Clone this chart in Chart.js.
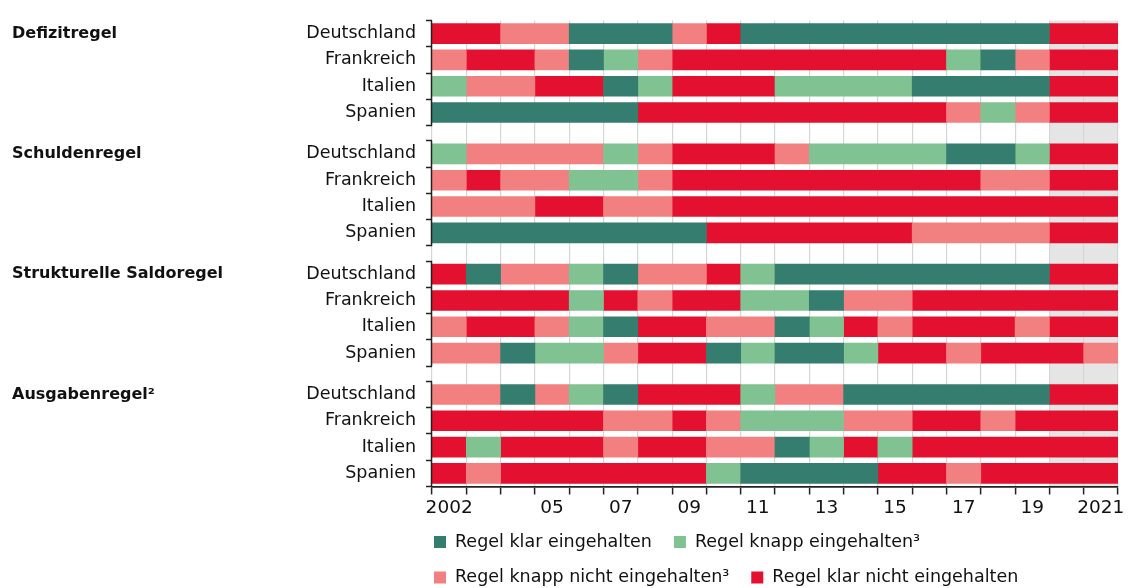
<!DOCTYPE html>
<html>
<head>
<meta charset="utf-8">
<script src="https://cdn.jsdelivr.net/npm/chart.js@4.4.1/dist/chart.umd.min.js"></script>
<style>
  html, body { margin: 0; padding: 0; background: #ffffff; }
  #wrap { width: 1129px; height: 588px; position: relative; }
</style>
</head>
<body>
<div id="wrap"><canvas id="c" width="1129" height="588"></canvas></div>
<script>
// ---------- data ----------
const years = [2002, 2003, 2004, 2005, 2006, 2007, 2008, 2009, 2010, 2011,
               2012, 2013, 2014, 2015, 2016, 2017, 2018, 2019, 2020, 2021];
const tickYears  = [2002, 2005, 2007, 2009, 2011, 2013, 2015, 2017, 2019, 2021];
const tickLabels = ['2002', '05', '07', '09', '11', '13', '15', '17', '19', '2021'];
const projectionYears = [2020, 2021];

const countries = ['Deutschland', 'Frankreich', 'Italien', 'Spanien'];
const rules = ['Defizitregel', 'Schuldenregel', 'Strukturelle Saldoregel', 'Ausgabenregel²'];

const categories = ['Regel klar eingehalten', 'Regel knapp eingehalten³',
                    'Regel knapp nicht eingehalten³', 'Regel klar nicht eingehalten'];
const categoryCodes = ['D', 'L', 'P', 'R'];
const categoryColors = ['#347d6f', '#80c291', '#f28080', '#e31030'];

// one letter per year 2002..2021 (D = klar eingehalten, L = knapp eingehalten,
// P = knapp nicht eingehalten, R = klar nicht eingehalten); order = countries
const defizitregel = [
  'RRPPDDDPRDDDDDDDDDRR',
  'PRRPDLPRRRRRRRRLDPRR',
  'LPPRRDLRRRLLLLDDDDRR',
  'DDDDDDRRRRRRRRRPLPRR'
];
const schuldenregel = [
  'LPPPPLPRRRPLLLLDDLRR',
  'PRPPLLPRRRRRRRRRPPRR',
  'PPPRRPPRRRRRRRRRRRRR',
  'DDDDDDDDRRRRRRPPPPRR'
];
const saldoregel = [
  'RDPPLDPPRLDDDDDDDDRR',
  'RRRRLRPRRLLDPPRRRRRR',
  'PRRPLDRRPPDLRPRRRPRR',
  'PPDLLPRRDLDDLRRPRRRP'
];
const ausgabenregel = [
  'PPDPLDRRRLPPDDDDDDRR',
  'RRRRRPPRPLLLPPRRPRRR',
  'RLRRRPRRPPDLRLRRRRRR',
  'RPRRRRRRLDDDDRRPRRRR'
];
const ruleData = [defizitregel, schuldenregel, saldoregel, ausgabenregel];

// ---------- layout helpers ----------
const GROUP_STEP = 4.575;           // row units from one rule group to the next
const Y_MIN = -0.5;
const Y_MAX = 3 * GROUP_STEP + 3.5;
const rowPos = (g, r) => g * GROUP_STEP + r;

// build floating bars from runs of equal status
const datasets = categoryCodes.map((code, ci) => ({
  label: categories[ci],
  data: [],
  backgroundColor: categoryColors[ci],
  borderWidth: 0,
  barThickness: 20,
  grouped: false
}));
ruleData.forEach((rows, g) => {
  rows.forEach((s, r) => {
    let start = 0;
    for (let i = 1; i <= s.length; i++) {
      if (i === s.length || s[i] !== s[start]) {
        const ci = categoryCodes.indexOf(s[start]);
        datasets[ci].data.push({ x: [years[start] - 0.5, years[i - 1] + 0.5], y: rowPos(g, r) });
        start = i;
      }
    }
  });
});

// x ticks: boundaries (tick marks / grid) and centres (labels)
const xTicks = [];
for (let v = years[0] - 0.5; v <= years[years.length - 1] + 0.5 + 1e-9; v += 0.5) xTicks.push(v);
const isBoundary = v => Math.abs(v - Math.round(v)) > 0.25;

// y ticks: boundaries (tick marks) and centres (country labels)
const yTicks = [];
rules.forEach((name, g) => {
  for (let k = 0; k <= 4; k++) {
    yTicks.push({ value: g * GROUP_STEP - 0.5 + k, label: '', b: true });
    if (k < 4) yTicks.push({ value: rowPos(g, k), label: countries[k], b: false });
  }
});
yTicks.sort((a, b) => a.value - b.value);

const FONT = '"DejaVu Sans", sans-serif';
const TEXT = '#111111';

const decor = {
  id: 'decor',
  beforeDraw(chart) {
    const { ctx, chartArea: a, scales: { x } } = chart;
    const x0 = x.getPixelForValue(projectionYears[0] - 0.5);
    const x1 = x.getPixelForValue(projectionYears[projectionYears.length - 1] + 0.5);
    ctx.save();
    ctx.fillStyle = '#e5e5e5';
    ctx.fillRect(x0, a.top, x1 - x0, a.bottom - a.top);
    ctx.restore();
  },
  afterDraw(chart) {
    const { ctx, chartArea: a, scales: { y } } = chart;
    ctx.save();
    // group spines
    ctx.strokeStyle = '#222222';
    ctx.lineWidth = 1.5;
    rules.forEach((name, g) => {
      const t = y.getPixelForValue(g * GROUP_STEP - 0.5);
      const b = y.getPixelForValue(g * GROUP_STEP + 3.5);
      ctx.beginPath();
      ctx.moveTo(a.left - 0.5, t);
      ctx.lineTo(a.left - 0.5, b);
      ctx.stroke();
    });
    // group titles
    ctx.font = 'bold 16px ' + FONT;
    ctx.fillStyle = TEXT;
    ctx.textAlign = 'left';
    ctx.textBaseline = 'middle';
    rules.forEach((name, g) => {
      ctx.fillText(name, 12, y.getPixelForValue(rowPos(g, 0)));
    });
    // legend
    ctx.font = '17.5px ' + FONT;
    const legendRows = [[0, 1], [2, 3]];
    const rowY = [542, 577.5];
    legendRows.forEach((row, ri) => {
      let xx = 434;
      const yy = rowY[ri];
      row.forEach(ci => {
        ctx.fillStyle = categoryColors[ci];
        ctx.fillRect(xx, yy - 6, 12, 12);
        ctx.fillStyle = TEXT;
        ctx.fillText(categories[ci], xx + 21, yy);
        xx += 21 + ctx.measureText(categories[ci]).width + 22;
      });
    });
    ctx.restore();
  }
};

new Chart(document.getElementById('c'), {
  type: 'bar',
  data: { datasets },
  options: {
    responsive: false,
    animation: false,
    devicePixelRatio: 1,
    events: [],
    indexAxis: 'y',
    layout: { padding: { top: 13.6, right: 11, bottom: 0, left: 0 } },
    plugins: { legend: { display: false }, tooltip: { enabled: false } },
    scales: {
      x: {
        type: 'linear',
        position: 'bottom',
        min: years[0] - 0.5,
        max: years[years.length - 1] + 0.5,
        offset: false,
        afterBuildTicks: s => { s.ticks = xTicks.map(v => ({ value: v })); },
        afterFit: s => { s.height = 101.5; },
        grid: {
          offset: false,
          color: c => (c.tick && isBoundary(c.tick.value)) ? '#d6d6d6' : 'rgba(0,0,0,0)',
          lineWidth: 1.2,
          tickColor: c => (c.tick && isBoundary(c.tick.value)) ? '#222222' : 'rgba(0,0,0,0)',
          tickLength: 8,
          tickWidth: 1.5
        },
        border: { display: true, color: '#222222', width: 1.8 },
        ticks: {
          autoSkip: false,
          maxRotation: 0,
          padding: 3,
          color: TEXT,
          font: { family: FONT, size: 18.5 },
          callback: v => {
            const i = tickYears.indexOf(Math.round(v));
            return (!isBoundary(v) && i >= 0) ? tickLabels[i] : '';
          }
        }
      },
      y: {
        type: 'linear',
        reverse: true,
        min: Y_MIN,
        max: Y_MAX,
        offset: false,
        afterBuildTicks: s => { s.ticks = yTicks.map(t => ({ value: t.value })); },
        afterFit: s => { s.width = 432; },
        grid: {
          offset: false,
          drawOnChartArea: false,
          tickLength: 6,
          tickWidth: 1.5,
          tickColor: c => (c.index !== undefined && yTicks[c.index] && yTicks[c.index].b) ? '#222222' : 'rgba(0,0,0,0)'
        },
        border: { display: false },
        ticks: {
          autoSkip: false,
          padding: 10,
          color: TEXT,
          font: { family: FONT, size: 17.5 },
          callback: (v, i) => yTicks[i] ? yTicks[i].label : ''
        }
      }
    }
  },
  plugins: [decor]
});
</script>
</body>
</html>
